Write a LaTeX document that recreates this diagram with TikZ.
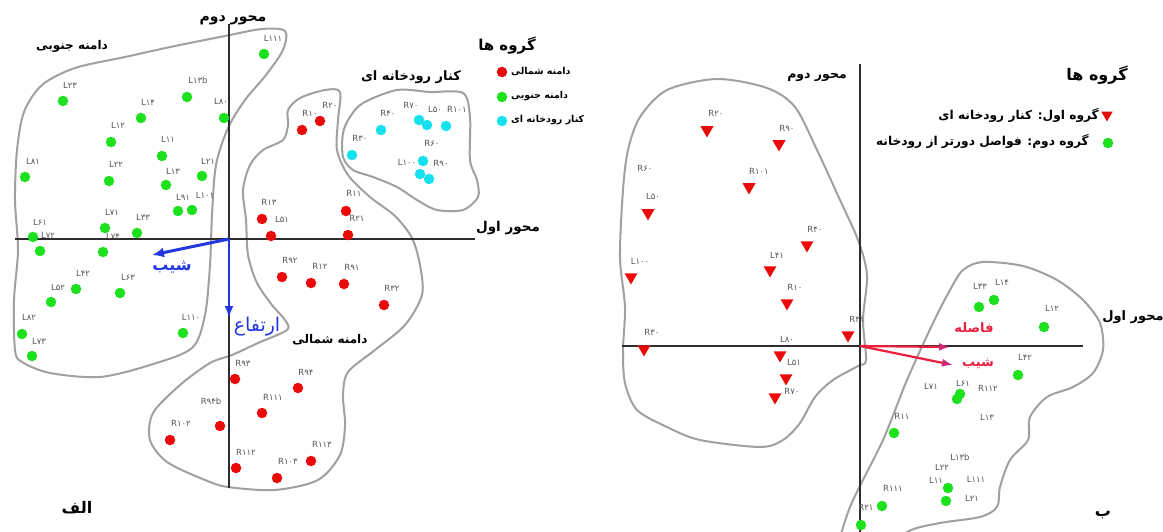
\documentclass[tikz,border=0pt]{standalone}
\usepackage{fontspec}
\usetikzlibrary{shapes.geometric,arrows.meta}
\TeXXeTstate=1
\newfontfamily\arfont[Script=Arabic]{DejaVu Sans}
\newfontfamily\labfont{DejaVu Sans}
\newcommand\fsz[1]{\fontsize{#1}{#1}\selectfont}
\definecolor{ptgreen}{RGB}{30,225,30}
\definecolor{ptred}{RGB}{235,10,10}
\definecolor{ptcyan}{RGB}{20,225,240}
\definecolor{blobgray}{RGB}{160,160,160}
\definecolor{axisgray}{RGB}{45,45,45}
\definecolor{labgray}{RGB}{85,85,85}
\definecolor{arrblue}{RGB}{35,55,225}
\definecolor{arrred}{RGB}{235,30,60}
\definecolor{tippink}{RGB}{205,40,120}
\tikzset{
  gdot/.style={circle,fill=ptgreen,inner sep=0pt,minimum size=10.5pt},
  rdot/.style={circle,fill=ptred,inner sep=0pt,minimum size=10.5pt},
  cdot/.style={circle,fill=ptcyan,inner sep=0pt,minimum size=10.5pt},
  rtri/.style={regular polygon,regular polygon sides=3,shape border rotate=180,
    fill=ptred,inner sep=0pt,minimum size=15pt},
  lab/.style={font=\labfont\fsz{8.5},text=labgray,inner sep=0pt},
  blob/.style={draw=blobgray,line width=2pt},
  axis/.style={draw=axisgray,line width=1.6pt},
  artxt/.style={font=\arfont\bfseries\fsz{11},inner sep=0pt},
  arsmall/.style={font=\arfont\bfseries\fsz{9.5},inner sep=0pt},
}
\begin{document}
\begin{tikzpicture}[x=1pt,y=-1pt]
  \useasboundingbox (0,0) rectangle (1163,532);
  % left panel: outlines
  \draw[blob] plot[smooth cycle] coordinates {(15,350) (14,300) (18,250) (15,200) (17,150)
    (24,112) (42,85) (75,68) (125,57) (175,46) (225,36) (262,29) (285,31) (283,50) (266,75)
    (245,100) (228,128) (216,165) (212,215) (210,265) (205,315) (192,348) (150,365)
    (100,377) (50,373) (22,362)};
  \draw[blob] plot[smooth cycle] coordinates {(288,110) (300,98) (325,90) (340,92) (338,120)
    (337,150) (348,175) (370,197) (395,216) (412,238) (420,265) (422,295) (405,325)
    (375,350) (348,372) (343,395) (345,425) (340,455) (318,480) (275,490) (228,487)
    (205,480) (167,462) (150,440) (153,413) (180,385) (210,363) (232,355) (258,343)
    (287,330) (285,320) (272,305) (257,283) (248,255) (246,220) (243,190) (250,165)
    (263,150) (283,140) (288,125)};
  \draw[blob] plot[smooth cycle] coordinates {(363,103) (397,90) (430,92) (463,93) (470,117)
    (470,160) (477,180) (478,197) (463,210) (437,210) (417,200) (397,187) (373,177)
    (353,170) (343,157) (343,133) (350,117)};
  % left panel: axes
  \coordinate (o1) at (229,239);
  \coordinate (ax1l) at (15,239);
  \coordinate (ax1r) at (475,239);
  \coordinate (ax2t) at (229,24);
  \coordinate (ax2b) at (229,488);
  \draw[axis] (ax1l) -- (ax1r);
  \draw[axis] (ax2t) -- (ax2b);
  \node[artxt,font=\arfont\bfseries\fsz{14}] (ax2name) at (233,20) {\beginR محور دوم\endR};
  \node[artxt,font=\arfont\bfseries\fsz{13.5}] (ax1name) at (508,228) {\beginR محور اول\endR};
  \node[artxt,font=\arfont\bfseries\fsz{12}] (south) at (72,46) {\beginR دامنه جنوبی\endR};
  \node[artxt,font=\arfont\bfseries\fsz{12}] (north) at (330,340) {\beginR دامنه شمالی\endR};
  \node[artxt,font=\arfont\bfseries\fsz{13}] (river) at (411,77) {\beginR کنار رودخانه ای\endR};
  \node[artxt,font=\arfont\bfseries\fsz{16}] (alef) at (77,508) {\beginR الف\endR};
  % left panel: legend
  \node[artxt,font=\arfont\bfseries\fsz{15}] (leg1) at (507,46) {\beginR گروه ها\endR};
  \node[rdot] (legr) at (502,72) {};
  \node[gdot] (legg) at (502,97) {};
  \node[cdot] (legc) at (502,121) {};
  \node[arsmall,anchor=west] (legrt) at (511,71) {\beginR دامنه شمالی\endR};
  \node[arsmall,anchor=west] (leggt) at (511,96) {\beginR دامنه جنوبی\endR};
  \node[arsmall,anchor=west] (legct) at (511,120) {\beginR کنار رودخانه ای\endR};
  % left panel: green points
  \node[gdot] (l111) at (264,54) {};  \node[lab] (l111t) at (273,38) {L۱۱۱};
  \node[gdot] (l23) at (63,101) {};   \node[lab] (l23t) at (70,85) {L۲۳};
  \node[gdot] (l13b) at (187,97) {};  \node[lab] (l13bt) at (198,80) {L۱۳b};
  \node[gdot] (l14) at (141,118) {};  \node[lab] (l14t) at (148,102) {L۱۴};
  \node[gdot] (l80) at (224,118) {};  \node[lab] (l80t) at (221,101) {L۸۰};
  \node[gdot] (l12) at (111,142) {};  \node[lab] (l12t) at (118,125) {L۱۲};
  \node[gdot] (l11) at (162,156) {};  \node[lab] (l11t) at (168,139) {L۱۱};
  \node[gdot] (l81) at (25,177) {};   \node[lab] (l81t) at (33,161) {L۸۱};
  \node[gdot] (l22) at (109,181) {};  \node[lab] (l22t) at (116,164) {L۲۲};
  \node[gdot] (l13) at (166,185) {};  \node[lab] (l13t) at (173,171) {L۱۳};
  \node[gdot] (l21) at (202,176) {};  \node[lab] (l21t) at (208,161) {L۲۱};
  \node[gdot] (l91) at (178,211) {};  \node[lab] (l91t) at (183,197) {L۹۱};
  \node[gdot] (l101) at (192,210) {}; \node[lab] (l101t) at (205,195) {L۱۰۱};
  \node[gdot] (l71) at (105,228) {};  \node[lab] (l71t) at (112,212) {L۷۱};
  \node[gdot] (l33) at (137,233) {};  \node[lab] (l33t) at (143,217) {L۳۳};
  \node[gdot] (l61) at (33,237) {};   \node[lab] (l61t) at (40,222) {L۶۱};
  \node[gdot] (l72) at (40,251) {};   \node[lab] (l72t) at (48,235) {L۷۲};
  \node[gdot] (l74) at (103,252) {};  \node[lab] (l74t) at (113,236) {L۷۴};
  \node[gdot] (l42) at (76,289) {};   \node[lab] (l42t) at (83,273) {L۴۲};
  \node[gdot] (l52) at (51,302) {};   \node[lab] (l52t) at (58,287) {L۵۲};
  \node[gdot] (l63) at (120,293) {};  \node[lab] (l63t) at (128,277) {L۶۳};
  \node[gdot] (l82) at (22,334) {};   \node[lab] (l82t) at (29,317) {L۸۲};
  \node[gdot] (l73) at (32,356) {};   \node[lab] (l73t) at (39,341) {L۷۳};
  \node[gdot] (l110) at (183,333) {}; \node[lab] (l110t) at (191,317) {L۱۱۰};
  % left panel: red points
  \node[rdot] (r20) at (320,121) {};  \node[lab] (r20t) at (330,105) {R۲۰};
  \node[rdot] (r10) at (302,130) {};  \node[lab] (r10t) at (310,113) {R۱۰};
  \node[rdot] (r13) at (262,219) {};  \node[lab] (r13t) at (269,202) {R۱۳};
  \node[rdot] (l51) at (271,236) {};  \node[lab] (l51t) at (282,219) {L۵۱};
  \node[rdot] (r11) at (346,211) {};  \node[lab] (r11t) at (354,193) {R۱۱};
  \node[rdot] (r21) at (348,235) {};  \node[lab] (r21t) at (357,218) {R۲۱};
  \node[rdot] (r92) at (282,277) {};  \node[lab] (r92t) at (290,260) {R۹۲};
  \node[rdot] (r12) at (311,283) {};  \node[lab] (r12t) at (320,266) {R۱۲};
  \node[rdot] (r91) at (344,284) {};  \node[lab] (r91t) at (352,267) {R۹۱};
  \node[rdot] (r32) at (384,305) {};  \node[lab] (r32t) at (392,288) {R۳۲};
  \node[rdot] (r93) at (235,379) {};  \node[lab] (r93t) at (243,363) {R۹۳};
  \node[rdot] (r94) at (298,388) {};  \node[lab] (r94t) at (306,372) {R۹۴};
  \node[rdot] (r111) at (262,413) {}; \node[lab] (r111t) at (273,397) {R۱۱۱};
  \node[rdot] (r94b) at (220,426) {}; \node[lab] (r94bt) at (211,401) {R۹۴b};
  \node[rdot] (r102) at (170,440) {}; \node[lab] (r102t) at (181,423) {R۱۰۲};
  \node[rdot] (r112) at (236,468) {}; \node[lab] (r112t) at (246,452) {R۱۱۲};
  \node[rdot] (r103) at (277,478) {}; \node[lab] (r103t) at (288,461) {R۱۰۳};
  \node[rdot] (r113) at (311,461) {}; \node[lab] (r113t) at (322,444) {R۱۱۳};
  % left panel: river side points
  \node[cdot] (c40) at (381,130) {};  \node[lab] (c40t) at (388,113) {R۴۰};
  \node[cdot] (c70) at (419,120) {};  \node[lab] (c70t) at (411,105) {R۷۰};
  \node[cdot] (c50) at (427,125) {};  \node[lab] (c50t) at (435,109) {L۵۰};
  \node[cdot] (c101) at (446,126) {}; \node[lab] (c101t) at (457,109) {R۱۰۱};
  \node[cdot] (c30) at (352,155) {};  \node[lab] (c30t) at (360,138) {R۳۰};
  \node[cdot] (c60) at (423,161) {};  \node[lab] (c60t) at (432,143) {R۶۰};
  \node[cdot] (c100) at (420,174) {}; \node[lab] (c100t) at (407,162) {L۱۰۰};
  \node[cdot] (c90) at (429,179) {};  \node[lab] (c90t) at (441,163) {R۹۰};
  % left panel: slope and height
  \coordinate (slope1) at (152,255);
  \coordinate (height1) at (229,318);
  \draw[arrblue,line width=3pt,-{Latex[length=12pt,width=10pt]}] (o1) -- (slope1);
  \draw[arrblue,line width=2.4pt,-{Latex[length=12pt,width=9pt]}] (o1) -- (height1);
  \node[font=\arfont\bfseries\fsz{16},text=arrblue,inner sep=0pt] (slope1t) at (172,267) {\beginR شیب\endR};
  \node[font=\arfont\fsz{19},text=arrblue,inner sep=0pt] (height1t) at (257,327) {\beginR ارتفاع\endR};

  % right panel: outlines
  \draw[blob] plot[smooth cycle] coordinates {(717,79) (767,88) (795,107) (817,150) (840,200)
    (858,240) (867,275) (863,320) (866,360) (858,366) (833,380) (815,397) (800,423)
    (783,440) (760,447) (700,440) (667,427) (637,410) (625,383) (623,350) (625,307)
    (620,257) (623,190) (628,150) (640,117) (667,90)};
  \begin{scope}
    \clip (600,0) rectangle (1163,532);
    \draw[blob] plot[smooth] coordinates {(834,560) (850,507) (883,440) (907,380) (933,323)
      (950,290) (963,270) (983,262) (1023,266) (1057,280) (1083,300) (1100,323) (1103,350)
      (1093,373) (1073,387) (1047,397) (1030,417) (1028,440) (1010,460) (1000,487) (997,507)
      (980,517) (940,523) (907,532) (875,560)};
  \end{scope}
  % right panel: axes
  \coordinate (o2) at (860,346);
  \coordinate (bx1l) at (622,346);
  \coordinate (bx1r) at (1083,346);
  \coordinate (bx2t) at (860,64);
  \coordinate (bx2b) at (860,532);
  \draw[axis] (bx1l) -- (bx1r);
  \draw[axis] (bx2t) -- (bx2b);
  \node[artxt,font=\arfont\bfseries\fsz{12.5}] (bx2name) at (817,77) {\beginR محور دوم\endR};
  \node[artxt,font=\arfont\bfseries\fsz{13}] (bx1name) at (1133,317) {\beginR محور اول\endR};
  \node[artxt,font=\arfont\bfseries\fsz{16}] (be) at (1103,515) {\beginR ب\endR};
  % right panel: legend
  \node[artxt,font=\arfont\bfseries\fsz{16}] (leg2) at (1097,75) {\beginR گروه ها\endR};
  \node[rtri,minimum size=13pt] (leg2r) at (1107,115) {};
  \node[gdot] (leg2g) at (1108,143) {};
  \node[artxt,font=\arfont\bfseries\fsz{12.2},anchor=east] (leg2rt) at (1099,115) {\beginR گروه اول: کنار رودخانه ای\endR};
  \node[artxt,font=\arfont\bfseries\fsz{12.2},anchor=east] (leg2gt) at (1089,141) {\beginR گروه دوم: فواصل دورتر از رودخانه\endR};
  % right panel: group one
  \node[rtri] (b20) at (707,130) {};   \node[lab] (b20t) at (716,113) {R۲۰};
  \node[rtri] (b90) at (779,144) {};   \node[lab] (b90t) at (787,128) {R۹۰};
  \node[lab] (b60t) at (645,168) {R۶۰};
  \node[rtri] (b50) at (648,213) {};   \node[lab] (b50t) at (653,196) {L۵۰};
  \node[rtri] (b101) at (749,187) {};  \node[lab] (b101t) at (759,171) {R۱۰۱};
  \node[rtri] (b40) at (807,245) {};   \node[lab] (b40t) at (815,229) {R۴۰};
  \node[rtri] (b100) at (631,277) {};  \node[lab] (b100t) at (640,261) {L۱۰۰};
  \node[rtri] (b41) at (770,270) {};   \node[lab] (b41t) at (777,255) {L۴۱};
  \node[rtri] (b10) at (787,303) {};   \node[lab] (b10t) at (795,287) {R۱۰};
  \node[rtri] (b31) at (848,335) {};   \node[lab] (b31t) at (857,319) {R۳۱};
  \node[rtri] (b30) at (644,349) {};   \node[lab] (b30t) at (652,332) {R۳۰};
  \node[rtri] (b80) at (780,355) {};   \node[lab] (b80t) at (787,339) {L۸۰};
  \node[rtri] (b51) at (786,378) {};   \node[lab] (b51t) at (794,362) {L۵۱};
  \node[rtri] (b70) at (775,397) {};   \node[lab] (b70t) at (792,391) {R۷۰};
  % right panel: group two
  \node[gdot] (g33) at (979,307) {};   \node[lab] (g33t) at (980,286) {L۳۳};
  \node[gdot] (g14) at (994,300) {};   \node[lab] (g14t) at (1002,282) {L۱۴};
  \node[gdot] (g12) at (1044,327) {};  \node[lab] (g12t) at (1052,308) {L۱۲};
  \node[gdot] (g42) at (1018,375) {};  \node[lab] (g42t) at (1025,357) {L۴۲};
  \node[lab] (g71t) at (931,386) {L۷۱};
  \node[gdot] (g71) at (960,394) {};
  \node[gdot] (g61) at (957,399) {};   \node[lab] (g61t) at (963,383) {L۶۱};
  \node[lab] (g112t) at (988,388) {R۱۱۲};
  \node[lab] (g13t) at (987,417) {L۱۳};
  \node[gdot] (g11r) at (894,433) {};  \node[lab] (g11rt) at (902,416) {R۱۱};
  \node[lab] (g13bt) at (960,457) {L۱۳b};
  \node[lab] (g22t) at (942,467) {L۲۲};
  \node[gdot] (g11) at (948,488) {};   \node[lab] (g11t) at (936,480) {L۱۱};
  \node[lab] (g111t) at (976,479) {L۱۱۱};
  \node[gdot] (g21) at (946,501) {};   \node[lab] (g21t) at (972,498) {L۲۱};
  \node[lab] (g111rt) at (893,488) {R۱۱۱};
  \node[gdot] (g21r) at (882,506) {};  \node[lab] (g21rt) at (866,507) {R۲۱};
  \node[gdot] (g0) at (861,525) {};
  % right panel: distance and slope
  \coordinate (dist2) at (950,347);
  \coordinate (slope2) at (953,365);
  \draw[arrred,line width=2.2pt,-{Latex[length=11pt,width=8pt,color=tippink]}] (o2) -- (dist2);
  \draw[arrred,line width=2.2pt,-{Latex[length=11pt,width=8pt,color=tippink]}] (o2) -- (slope2);
  \node[font=\arfont\bfseries\fsz{13},text=arrred,inner sep=0pt] (dist2t) at (974,328) {\beginR فاصله\endR};
  \node[font=\arfont\bfseries\fsz{13},text=arrred,inner sep=0pt] (slope2t) at (978,364) {\beginR شیب\endR};
\end{tikzpicture}
\end{document}
